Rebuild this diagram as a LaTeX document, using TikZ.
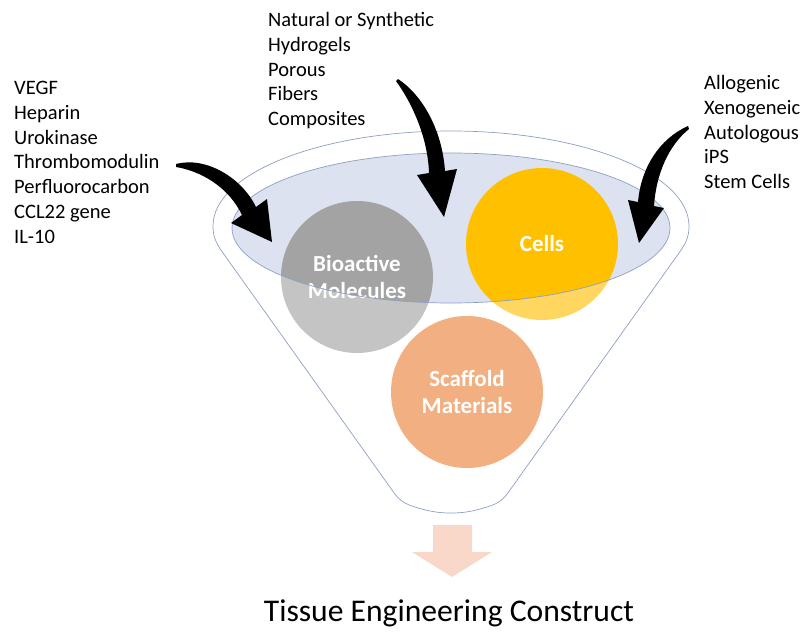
\documentclass[tikz,border=0pt]{standalone}
\usepackage{fontspec}
\setmainfont{Carlito}

\definecolor{rimblue}{HTML}{8EA0C2}
\definecolor{bowlfill}{HTML}{DDE2F1}
\definecolor{molgray}{HTML}{A3A3A3}
\definecolor{molgraylt}{HTML}{C4C4C4}
\definecolor{cellgold}{HTML}{FFC000}
\definecolor{cellgoldlt}{HTML}{FFD760}
\definecolor{scaforange}{HTML}{F2AF82}
\definecolor{outpink}{HTML}{F9D8CA}

\begin{document}
\begin{tikzpicture}[x=1pt,y=-1pt]
  \tikzstyle{list}=[anchor=north west,inner sep=0pt,align=left,
                    font=\fontsize{20.5}{24.8}\selectfont]
  \tikzstyle{ball}=[circle,minimum size=152pt,inner sep=0pt]
  \tikzstyle{balltext}=[text=white,align=center,
                    font=\bfseries\fontsize{23}{27}\selectfont]
  \tikzstyle{rim}=[draw=rimblue,line width=0.7pt]

  \useasboundingbox (0,0) rectangle (803,637);

  % funnel body
  \draw[rim,fill=white] (392,490) -- (223,253)
     .. controls (215,242) and (213,235) .. (213,226)
     arc[start angle=180,end angle=360,x radius=238,y radius=95]
     .. controls (689,235) and (687,242) .. (679,253) -- (510,490)
     .. controls (504,499) and (499,503) .. (490,506)
     .. controls (472,512) and (462,513) .. (451,513)
     .. controls (440,513) and (430,512) .. (412,506)
     .. controls (403,503) and (398,499) .. cycle;

  % the three ingredients
  \node[ball,fill=molgraylt]  (bio)      at (357,277) {};
  \node[ball,fill=cellgoldlt] (cells)    at (542,244) {};
  \node[ball,fill=scaforange] (scaffold) at (467,392) {};

  % mixing bowl, circles look darker inside it
  \fill[bowlfill] (451,228) ellipse[x radius=219,y radius=75];
  \begin{scope}
    \clip (451,228) ellipse[x radius=219,y radius=75];
    \fill[molgray]  (bio.center)   circle[radius=76];
    \fill[cellgold] (cells.center) circle[radius=76];
  \end{scope}

  \node[balltext] (biotext)      at (bio)      {Bioactive\\Molecules};
  \node[balltext] (cellstext)    at (cells)    {Cells};
  \node[balltext] (scaffoldtext) at (scaffold) {Scaffold\\Materials};

  \draw[rim] (451,228) ellipse[x radius=219,y radius=75];

  % ingredient lists
  \node[list] (molecules) at (14,81)
    {VEGF\\Heparin\\Urokinase\\Thrombomodulin\\Perfluorocarbon\\CCL22 gene\\IL-10};
  \node[list] (materials) at (268,12)
    {Natural or Synthetic\\Hydrogels\\Porous\\Fibers\\Composites};
  \node[list] (sources) at (704,75)
    {Allogenic\\Xenogeneic\\Autologous\\iPS\\Stem Cells};

  % curved arrows into the bowl
  \coordinate (molin) at (272,242);
  \coordinate (matin) at (444,217);
  \coordinate (srcin) at (639,243);
  \fill (176,164) .. controls (206,156) and (242,178) .. (256,207)
     -- (267,199) -- (molin) -- (231,223) -- (242,215)
     .. controls (228,186) and (200,171) .. (176,167) -- cycle;
  \fill (398,79) .. controls (421,94) and (442,128) .. (445,171)
     -- (457,169) -- (matin) -- (417,175) -- (429,173)
     .. controls (428,140) and (414,106) .. (396,81) -- cycle;
  \fill (688,126) .. controls (659,139) and (641,168) .. (638,202)
     -- (628,200) -- (srcin) -- (664,208) -- (654,206)
     .. controls (656,175) and (668,146) .. (689,129) -- cycle;

  % result
  \fill[outpink] (433,525) -- (472,525) -- (472,552) -- (492,552)
     -- (452,577) -- (412,552) -- (433,552) -- cycle;
  \node[font=\fontsize{31.6}{36}\selectfont] (construct) at (449,613)
    {Tissue Engineering Construct};
\end{tikzpicture}
\end{document}
